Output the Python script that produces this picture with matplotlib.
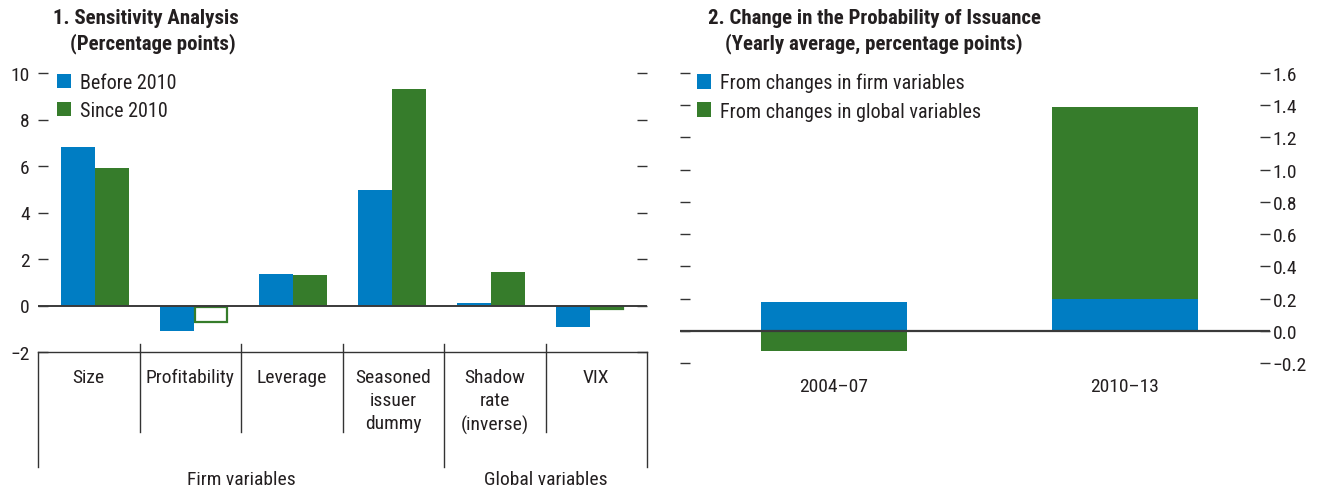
import matplotlib
matplotlib.use("Agg")
import matplotlib.pyplot as plt
import numpy as np

plt.rcParams['font.family'] = ['Roboto Condensed', 'IBM Plex Sans Condensed', 'DejaVu Sans']
plt.rcParams['axes.unicode_minus'] = True

# ---------------- data ----------------
categories = ["Size", "Profitability", "Leverage", "Seasoned\nissuer\ndummy",
              "Shadow\nrate\n(inverse)", "VIX"]
groups = ["Firm variables", "Global variables"]
before_2010 = [6.83, -1.11, 1.37, 4.98, 0.10, -0.93]
since_2010 = [5.91, -0.70, 1.31, 9.31, 1.43, -0.15]
since_2010_significant = [True, False, True, True, True, False]

periods = ["2004\u201307", "2010\u201313"]
firm_change = [0.178, 0.197]
global_change = [-0.125, 1.19]

p1_yticks = [-2, 0, 2, 4, 6, 8, 10]
p2_yticks = [-0.2, 0.0, 0.2, 0.4, 0.6, 0.8, 1.0, 1.2, 1.4, 1.6]

BLUE = "#007DC3"
GREEN = "#367C2B"
TXT = "#231F20"
FS = 14
LFS = 14.5
TFS = 15

W, H = 1317, 489
fig = plt.figure(figsize=(W / 100, H / 100), dpi=100)


def fx(px):
    return px / W


def fy(py):
    return 1 - py / H


# ---------------- panel 1 ----------------
ax1 = fig.add_axes([fx(38), fy(353), fx(647) - fx(38), fy(74) - fy(353)])
x = np.arange(len(categories))
bw = 0.34
ax1.bar(x - bw / 2, before_2010, bw, color=BLUE, label="Before 2010", zorder=2)
for xi, v, sig in zip(x, since_2010, since_2010_significant):
    if sig:
        ax1.bar(xi + bw / 2, v, bw, color=GREEN, zorder=2)
    else:
        ax1.bar(xi + bw / 2 + 0.005, v + 0.06, bw - 0.02, bottom=-0.06,
                facecolor="white", edgecolor=GREEN, linewidth=1.6, zorder=2)
ax1.bar([np.nan], [np.nan], color=GREEN, label="Since 2010")
ax1.axhline(0, color="#3a3a3a", lw=1.4, zorder=3)
ax1.set_xlim(-0.576, 5.576)
ax1.set_ylim(-2, 10)
ax1.set_yticks(p1_yticks)
ax1.set_yticklabels([str(t).replace("-", "\u2212") for t in p1_yticks],
                    fontsize=FS, color=TXT)
ax1.tick_params(axis="y", direction="in", length=7, width=1.0, color="#333333",
                left=True, right=True, labelleft=True, labelright=False, pad=6)
ax1.tick_params(axis="x", bottom=False, labelbottom=False)
for s in ["left", "right", "top"]:
    ax1.spines[s].set_visible(False)
ax1.spines["bottom"].set_color("#333333")
ax1.spines["bottom"].set_linewidth(1.0)

# category table
tr = ax1.transAxes
ncat = len(categories)
for k in range(ncat + 1):
    xf = k / ncat
    if k in (0, 4, ncat):
        y0, y1 = 0.029, -0.412
    else:
        y0, y1 = 0.029, -0.287
    if k == 0 or k == ncat:
        y0 = 0.0
    ax1.plot([xf, xf], [y0, y1], transform=tr, color="#333333", lw=1.0,
             clip_on=False)
for k, c in enumerate(categories):
    ax1.text((k + 0.5) / ncat, -0.056, c, transform=tr, ha="center", va="top",
             fontsize=FS, color=TXT, linespacing=1.38)
ax1.text(2 / ncat, -0.456, groups[0], transform=tr, ha="center", va="center",
         fontsize=FS, color=TXT)
ax1.text(5 / ncat, -0.456, groups[1], transform=tr, ha="center", va="center",
         fontsize=FS, color=TXT)

leg1 = ax1.legend(loc="upper left", bbox_to_anchor=(0.031, 1.0), frameon=False,
                  fontsize=LFS, handlelength=0.7, handleheight=0.7,
                  handletextpad=0.45, labelspacing=0.45, borderaxespad=0,
                  borderpad=0)
for t in leg1.get_texts():
    t.set_color(TXT)

fig.text(fx(53), fy(18), "1. Sensitivity Analysis", ha="left", va="center",
         fontsize=TFS, fontweight="bold", color=TXT)
fig.text(fx(70), fy(44), "(Percentage points)", ha="left", va="center",
         fontsize=TFS, fontweight="bold", color=TXT)

# ---------------- panel 2 ----------------
ax2 = fig.add_axes([fx(680), fy(364), fx(1270) - fx(680), fy(74) - fy(364)])
xp = np.arange(len(periods))
bw2 = 0.5
firm = np.array(firm_change)
glob = np.array(global_change)
glob_bottom = np.where(glob >= 0, np.maximum(firm, 0), np.minimum(firm, 0))
ax2.bar(xp, firm, bw2, color=BLUE, label="From changes in firm variables", zorder=2)
ax2.bar(xp, glob, bw2, bottom=glob_bottom, color=GREEN,
        label="From changes in global variables", zorder=2)
ax2.axhline(0, color="#3a3a3a", lw=1.6, zorder=3)
ax2.set_xlim(-0.529, 1.498)
ax2.set_ylim(-0.2, 1.6)
ax2.set_yticks(p2_yticks)
ax2.set_yticklabels([f"{t:.1f}".replace("-", "\u2212").replace("\u22120.0", "0.0")
                     for t in p2_yticks], fontsize=FS, color=TXT)
ax2.tick_params(axis="y", direction="in", length=7, width=1.0, color="#333333",
                left=True, right=True, labelleft=False, labelright=True, pad=2)
ax2.set_xticks(xp)
ax2.set_xticklabels(periods, fontsize=FS, color=TXT)
ax2.tick_params(axis="x", length=0, pad=10)
for s in ["left", "right", "top", "bottom"]:
    ax2.spines[s].set_visible(False)

leg2 = ax2.legend(loc="upper left", bbox_to_anchor=(0.029, 1.0), frameon=False,
                  fontsize=LFS, handlelength=0.7, handleheight=0.7,
                  handletextpad=0.45, labelspacing=0.45, borderaxespad=0,
                  borderpad=0)
for t in leg2.get_texts():
    t.set_color(TXT)

fig.text(fx(708), fy(18), "2. Change in the Probability of Issuance", ha="left",
         va="center", fontsize=TFS, fontweight="bold", color=TXT)
fig.text(fx(725), fy(44), "(Yearly average, percentage points)", ha="left",
         va="center", fontsize=TFS, fontweight="bold", color=TXT)

fig.savefig("out.png", dpi=100)
